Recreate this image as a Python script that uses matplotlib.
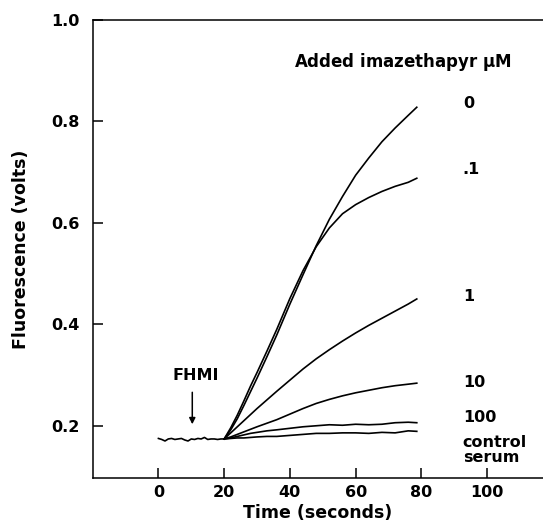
import numpy as np
import matplotlib.pyplot as plt

# baseline before FHMI addition (0-20 s)
t_base = [0, 1, 2, 3, 4, 5, 6, 7, 8, 9, 10, 11, 12, 13, 14, 15, 16, 17, 18, 19, 20]
v_base = [0.175, 0.173, 0.170, 0.174, 0.175, 0.173, 0.174, 0.175, 0.172, 0.170, 0.174,
          0.173, 0.175, 0.174, 0.177, 0.173, 0.174, 0.174, 0.173, 0.174, 0.174]

# rise after 20 s, one trace per imazethapyr concentration
t_rise = [20, 22, 24, 26, 28, 30, 33, 36, 40, 44, 48, 52, 56, 60, 64, 68, 72, 76, 78.6]
v_0 = [0.174, 0.192, 0.214, 0.240, 0.267, 0.294, 0.336, 0.379, 0.440, 0.498, 0.555,
       0.607, 0.652, 0.694, 0.728, 0.760, 0.787, 0.812, 0.828]
v_01 = [0.174, 0.196, 0.221, 0.249, 0.278, 0.305, 0.347, 0.390, 0.451, 0.506, 0.553,
        0.590, 0.618, 0.636, 0.650, 0.662, 0.672, 0.680, 0.688]
v_1 = [0.174, 0.186, 0.198, 0.210, 0.222, 0.234, 0.251, 0.268, 0.290, 0.312, 0.332,
       0.350, 0.367, 0.383, 0.398, 0.412, 0.426, 0.440, 0.450]
v_10 = [0.174, 0.178, 0.183, 0.188, 0.193, 0.198, 0.205, 0.212, 0.223, 0.234, 0.244,
        0.252, 0.259, 0.265, 0.270, 0.275, 0.279, 0.282, 0.284]
v_100 = [0.174, 0.176, 0.179, 0.182, 0.185, 0.187, 0.190, 0.192, 0.195, 0.198, 0.200,
         0.202, 0.201, 0.203, 0.202, 0.203, 0.206, 0.207, 0.206]
v_ctrl = [0.174, 0.175, 0.176, 0.176, 0.177, 0.178, 0.179, 0.179, 0.181, 0.183, 0.185,
          0.185, 0.186, 0.186, 0.185, 0.187, 0.186, 0.190, 0.189]

traces = [v_0, v_01, v_1, v_10, v_100, v_ctrl]
labels = ['0', '.1', '1', '10', '100', 'control\nserum']
label_y = [0.835, 0.705, 0.455, 0.286, 0.216, 0.153]

plt.rcParams['font.family'] = 'DejaVu Sans'
plt.rcParams['font.weight'] = 'bold'
plt.rcParams['axes.labelweight'] = 'bold'

fig = plt.figure(figsize=(5.43, 5.25), dpi=100)
ax = fig.add_axes([0.1707, 0.0895, 0.8293, 0.8724])

ax.plot(t_base, v_base, color='black', lw=1.2)
for v in traces:
    ax.plot(t_rise, v, color='black', lw=1.2)

for lab, y in zip(labels, label_y):
    ax.text(92.6, y, lab, ha='left', va='center', fontsize=11.5, linespacing=1.0)

ax.text(41.1, 0.917, r'Added imazethapyr $\mathbf{\mu}$M', ha='left', va='center', fontsize=12)

ax.text(11.3, 0.299, 'FHMI', ha='center', va='center', fontsize=11.5)
ax.annotate('', xy=(10.3, 0.203), xytext=(10.3, 0.266),
            arrowprops=dict(arrowstyle='-|>', color='black', lw=1.1,
                            mutation_scale=9, shrinkA=0, shrinkB=0))

ax.set_xlim(-20, 117)
ax.set_ylim(0.097, 1.0)
ax.set_xticks([0, 20, 40, 60, 80, 100])
ax.set_yticks([0.2, 0.4, 0.6, 0.8, 1.0])
ax.set_yticklabels(['0.2', '0.4', '0.6', '0.8', '1.0'])
ax.tick_params(direction='in', length=7, width=1.1, labelsize=11.5)
ax.tick_params(axis='y', pad=9.5)
ax.tick_params(axis='x', pad=5)
for s in ['left', 'bottom', 'top']:
    ax.spines[s].set_linewidth(1.1)
ax.spines['right'].set_visible(False)

ax.set_xlabel('Time (seconds)', fontsize=12.5, labelpad=3)
ax.set_ylabel('Fluorescence (volts)', fontsize=12.5, labelpad=15)

fig.savefig('out.png', dpi=100)
